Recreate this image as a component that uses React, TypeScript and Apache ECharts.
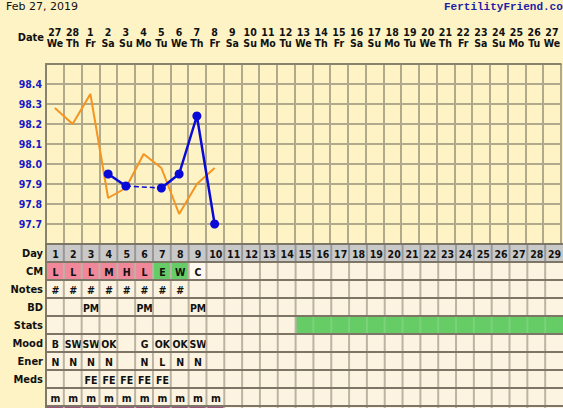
import React, { useEffect, useRef } from 'react';
import * as echarts from 'echarts';

// Calendar header (cycle starts Wed Feb 27, 2019)
const dateNums = ['27', '28', '1', '2', '3', '4', '5', '6', '7', '8', '9', '10', '11', '12', '13', '14', '15', '16', '17', '18', '19', '20', '21', '22', '23', '24', '25', '26', '27'];
const weekdays = ['We', 'Th', 'Fr', 'Sa', 'Su', 'Mo', 'Tu', 'We', 'Th', 'Fr', 'Sa', 'Su', 'Mo', 'Tu', 'We', 'Th', 'Fr', 'Sa', 'Su', 'Mo', 'Tu', 'We', 'Th', 'Fr', 'Sa', 'Su', 'Mo', 'Tu', 'We'];
const cycleDays = ['1', '2', '3', '4', '5', '6', '7', '8', '9', '10', '11', '12', '13', '14', '15', '16', '17', '18', '19', '20', '21', '22', '23', '24', '25', '26', '27', '28', '29'];

// Temperatures (°F); null = not recorded
const currentTemps = [null, null, null, 97.95, 97.89, null, 97.88, 97.95, 98.24, 97.7];
const gapBridge = [null, null, null, null, 97.89, null, 97.88];
const overlayTemps = [98.28, 98.2, 98.35, 97.83, 97.88, 98.05, 97.98, 97.75, 97.9, 97.98];

// Table rows
const rowLabels = ['Day', 'CM', 'Notes', 'BD', 'Stats', 'Mood', 'Ener', 'Meds', ' ', '  '];
const cmCodes = ['L', 'L', 'L', 'M', 'H', 'L', 'E', 'W', 'C'];
const notes = ['#', '#', '#', '#', '#', '#', '#', '#'];
const intercourse = ['', '', 'PM', '', '', 'PM', '', '', 'PM'];
const statsStartDay = 15;
const mood = ['B', 'SW', 'SW', 'OK', '', 'G', 'OK', 'OK', 'SW'];
const energy = ['N', 'N', 'N', 'N', '', 'N', 'L', 'N', 'N'];
const meds = ['', '', 'FE', 'FE', 'FE', 'FE', 'FE'];
const menses = ['m', 'm', 'm', 'm', 'm', 'm', 'm', 'm', 'm', 'm'];
const periodDays = 10;

const FONT = '"DejaVu Sans Condensed", "DejaVu Sans"';
const CREAM = '#FCF3E0';
const PINK = '#F0879A';
const GREEN = '#66CC66';

function cellText(row: number, col: number): string {
  const pick = (arr: string[]) => arr[col] ?? '';
  switch (row) {
    case 0: return cycleDays[col];
    case 1: return pick(cmCodes);
    case 2: return pick(notes);
    case 3: return pick(intercourse);
    case 5: return pick(mood);
    case 6: return pick(energy);
    case 7: return pick(meds);
    case 8: return pick(menses);
    default: return '';
  }
}

function cellFill(row: number, col: number): string {
  if (row === 0) return '#C9C9C9';
  if (row === 1) {
    const c = cmCodes[col];
    if (c === 'L' || c === 'M' || c === 'H') return PINK;
    if (c === 'E' || c === 'W') return GREEN;
    if (c === 'C') return '#FFF9EF';
  }
  if (row === 4 && col + 1 >= statsStartDay) return GREEN;
  if (row === 9 && col < periodDays) return '#A0527E';
  return CREAM;
}

const cells: number[][] = [];
for (let r = 0; r < rowLabels.length; r++) {
  for (let c = 0; c < cycleDays.length; c++) cells.push([c, r]);
}

export default function App() {
  const ref = useRef<HTMLDivElement>(null);

  useEffect(() => {
    if (!ref.current) return;
    const chart = echarts.init(ref.current, undefined, { renderer: 'svg' });

    const gridLine = { color: '#B0A98B', width: 2 };
    const borderLine = { color: '#8A836B', width: 2 };

    chart.setOption({
      animation: false,
      backgroundColor: '#FDF3C5',
      textStyle: { fontFamily: FONT },
      grid: [
        { left: 46, top: 64, width: 522, height: 180, show: false },
        { left: 46, top: 244, width: 522, height: 180, show: false },
      ],
      xAxis: [
        {
          gridIndex: 0,
          type: 'category',
          data: cycleDays,
          position: 'top',
          boundaryGap: true,
          axisLine: { show: true, lineStyle: borderLine },
          axisTick: { show: false },
          axisLabel: {
            interval: 0,
            margin: 16,
            formatter: (_v: string, i: number) => `{n|${dateNums[i]}}\n{w|${weekdays[i]}}`,
            rich: {
              n: { fontFamily: FONT, fontSize: 10.5, fontWeight: 'bold', color: '#111', lineHeight: 11 },
              w: { fontFamily: FONT, fontSize: 10.5, fontWeight: 'bold', color: '#111', lineHeight: 11 },
            },
          },
          splitLine: { show: true, interval: 0, lineStyle: gridLine },
        },
        { gridIndex: 1, type: 'category', data: cycleDays, show: false },
      ],
      yAxis: [
        {
          gridIndex: 0,
          type: 'value',
          min: 97.6,
          max: 98.5,
          interval: 0.1,
          axisLine: { show: true, lineStyle: borderLine },
          axisTick: { show: false },
          axisLabel: {
            margin: 4,
            color: '#1818C8',
            fontWeight: 'bold',
            fontSize: 10.5,
            fontFamily: FONT,
            formatter: (v: number) => (v < 97.65 || v > 98.45 ? '' : v.toFixed(1)),
          },
          splitLine: { show: true, lineStyle: gridLine },
        },
        {
          gridIndex: 1,
          type: 'category',
          data: rowLabels,
          inverse: true,
          axisLine: { show: false },
          axisTick: { show: false },
          axisLabel: { margin: 3, color: '#111', fontWeight: 'bold', fontSize: 11, fontFamily: FONT },
        },
      ],
      graphic: [
        {
          type: 'text', left: 6, top: 1,
          style: { text: 'Feb 27, 2019', font: '11px "DejaVu Sans"', fill: '#111' },
        },
        {
          type: 'text', left: 444, top: 1,
          style: { text: 'FertilityFriend.com', font: 'bold 11px "Liberation Mono"', fill: '#1E1EA8' },
        },
        {
          type: 'text', right: 519, top: 32,
          style: { text: 'Date', font: `bold 11px ${FONT}`, fill: '#111', align: 'right' },
        },
      ],
      series: [
        {
          type: 'custom',
          xAxisIndex: 1,
          yAxisIndex: 1,
          data: cells,
          silent: true,
          renderItem: (params: any, api: any) => {
            const col = api.value(0);
            const row = api.value(1);
            const p = api.coord([col, row]);
            const s = api.size([1, 1]);
            const x = p[0] - s[0] / 2;
            const y = p[1] - s[1] / 2;
            const w = s[0];
            const h = s[1];
            const fill = cellFill(row, col);
            let vColor = '#BBB4A4';
            if (row === 0) vColor = '#989898';
            if (row === 4 && col + 1 > statsStartDay) vColor = '#7BD27B';
            if (col === 0) vColor = '#80786A';
            const text = cellText(row, col);
            const children: any[] = [
              { type: 'rect', shape: { x, y, width: w, height: h }, style: { fill } },
              { type: 'line', shape: { x1: x, y1: y + 1, x2: x, y2: y + h - 1 }, style: { stroke: vColor, lineWidth: 2 } },
              { type: 'line', shape: { x1: x - 1, y1: y, x2: x + w + 1, y2: y }, style: { stroke: '#7D7566', lineWidth: 2 } },
            ];
            if (text) {
              children.push({
                type: 'text',
                x: x + w / 2 + 0.5,
                y: y + h / 2 + 1,
                style: {
                  text,
                  fill: '#111',
                  font: `bold 10.5px ${FONT}`,
                  align: 'center',
                  verticalAlign: 'middle',
                },
              });
            }
            return { type: 'group', children };
          },
        },
        {
          type: 'line',
          xAxisIndex: 0,
          yAxisIndex: 0,
          data: overlayTemps,
          symbol: 'none',
          lineStyle: { color: '#F59420', width: 2 },
          z: 3,
        },
        {
          type: 'line',
          xAxisIndex: 0,
          yAxisIndex: 0,
          data: gapBridge,
          connectNulls: true,
          symbol: 'none',
          lineStyle: { color: '#0A0AD8', width: 1.5, type: [5, 3] },
          z: 4,
        },
        {
          type: 'line',
          xAxisIndex: 0,
          yAxisIndex: 0,
          data: currentTemps,
          connectNulls: false,
          symbol: 'circle',
          symbolSize: 9,
          showAllSymbol: true,
          itemStyle: { color: '#0A0AD8' },
          lineStyle: { color: '#0A0AD8', width: 2.5 },
          z: 5,
        },
      ],
    });

    return () => chart.dispose();
  }, []);

  // The lowest table row runs past the bottom edge of the page, as on the site
  return (
    <div
      ref={ref}
      style={{ position: 'fixed', left: 0, top: 0, width: 563, height: 426 }}
    />
  );
}
